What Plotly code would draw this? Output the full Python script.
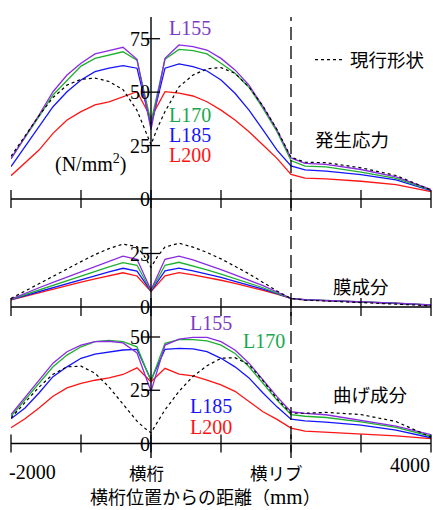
import plotly.graph_objects as go

# ---- distance from the cross girder (mm) ----
X = [-2000, -1800, -1600, -1400, -1200, -1000, -800, -600, -400, -200, 0,
     200, 400, 600, 800, 1000, 1200, 1400, 1600, 1800, 2000,
     2200, 2500, 3000, 3500, 4000]
X_CUR = [-2000, -1800, -1600, -1400, -1200, -1000, -800, -600, -400, -200, -100, 0,
         100, 200, 400, 600, 800, 1000, 1200, 1400, 1600, 1800, 2000,
         2200, 2500, 3000, 3500, 4000]

# ---- 発生応力 (N/mm2) ----
TOP_L155 = [18.8, 29.0, 39.3, 50.2, 58.0, 63.5, 67.9, 69.4, 71.0, 65.4, 32.5,
            65.8, 72.1, 71.3, 69.7, 65.8, 60.4, 53.3, 43.2, 32.3, 19.2,
            16.7, 16.2, 13.8, 10.3, 4.5]
TOP_L170 = [19.0, 28.5, 38.5, 48.7, 55.7, 62.2, 65.8, 67.4, 68.9, 65.0, 36.0,
            65.4, 70.0, 69.4, 67.9, 63.5, 58.8, 52.3, 42.4, 31.5, 18.0,
            15.4, 15.0, 12.6, 9.6, 4.2]
TOP_L185 = [15.1, 24.5, 33.8, 43.2, 50.2, 55.7, 59.6, 61.2, 62.4, 61.2, 34.5,
            61.2, 63.2, 61.9, 59.9, 55.7, 49.5, 41.6, 32.3, 22.9, 15.5,
            13.6, 13.0, 11.4, 9.0, 3.9]
TOP_L200 = [10.9, 16.7, 22.9, 30.7, 37.0, 40.9, 44.0, 45.5, 47.9, 50.2, 38.0,
            50.2, 49.5, 48.2, 45.5, 41.6, 37.0, 31.5, 25.3, 19.0, 11.5,
            9.8, 9.4, 8.3, 6.7, 3.4]
TOP_CUR = [20.0, 29.5, 39.0, 47.5, 53.3, 56.0, 56.6, 55.0, 51.2, 41.5, 33.5, 25.5,
           33.8, 40.9, 52.5, 58.0, 60.9, 61.5, 58.8, 52.4, 43.5, 32.5, 19.5,
           17.2, 17.0, 14.6, 11.0, 4.2]

# ---- 膜成分 ----
MID_L155 = [3.7, 6.5, 9.0, 11.5, 14.0, 16.5, 19.0, 21.5, 23.8, 22.3, 7.9,
            22.3, 23.8, 22.0, 19.8, 17.5, 15.0, 12.5, 10.0, 7.0, 4.0,
            3.4, 3.1, 2.5, 1.8, 1.0]
MID_L170 = [3.6, 5.8, 8.0, 10.2, 12.4, 14.5, 16.7, 18.8, 20.7, 19.5, 7.5,
            19.5, 20.9, 19.3, 17.4, 15.4, 13.3, 11.2, 9.0, 6.5, 4.0,
            3.4, 3.1, 2.5, 1.8, 1.0]
MID_L185 = [3.5, 5.4, 7.3, 9.2, 11.0, 12.8, 14.6, 16.4, 18.1, 16.8, 7.4,
            16.9, 18.2, 16.9, 15.4, 13.8, 12.0, 10.2, 8.3, 6.2, 4.0,
            3.3, 3.0, 2.4, 1.7, 0.9]
MID_L200 = [3.3, 5.0, 6.7, 8.4, 10.0, 11.6, 13.1, 14.6, 16.0, 14.5, 7.2,
            14.6, 16.1, 15.0, 13.8, 12.5, 11.0, 9.5, 7.8, 6.0, 4.0,
            3.3, 3.0, 2.4, 1.7, 0.9]
MID_CUR = [4.0, 7.5, 11.0, 14.5, 18.0, 21.2, 24.5, 27.3, 29.4, 28.2, 24.0, 18.5,
           24.0, 28.0, 29.8, 28.0, 25.5, 22.5, 19.0, 15.5, 11.5, 7.5, 4.0,
           3.2, 2.8, 2.1, 1.3, 0.6]

# ---- 曲げ成分 ----
BOT_L155 = [13.6, 21.5, 29.3, 37.7, 43.1, 46.2, 47.8, 48.0, 47.2, 42.5, 24.5,
            46.2, 49.0, 49.8, 49.8, 47.8, 43.9, 37.7, 29.8, 22.0, 14.9,
            14.1, 13.5, 11.0, 8.2, 4.2]
BOT_L170 = [12.8, 20.5, 28.2, 36.0, 41.5, 45.4, 47.8, 48.4, 47.8, 45.4, 29.3,
            47.0, 48.8, 48.8, 48.2, 46.2, 42.3, 36.0, 28.3, 20.4, 13.6,
            12.8, 12.2, 10.2, 7.6, 3.4]
BOT_L185 = [11.6, 16.7, 23.7, 31.4, 36.0, 40.0, 42.0, 43.1, 43.9, 44.2, 29.8,
            44.2, 44.7, 44.4, 43.1, 40.0, 36.0, 30.8, 23.7, 17.2, 11.4,
            10.6, 10.0, 8.6, 6.3, 2.7]
BOT_L200 = [7.4, 11.6, 16.7, 22.2, 26.1, 28.2, 29.7, 30.8, 32.4, 35.5, 29.0,
            35.3, 32.6, 31.7, 29.8, 27.5, 24.5, 19.6, 14.9, 11.3, 7.2,
            5.8, 5.3, 4.6, 3.6, 2.3]
BOT_CUR = [12.0, 19.0, 26.5, 32.5, 36.0, 36.3, 33.0, 26.5, 18.5, 10.5, 7.5, 5.0,
           10.5, 15.8, 24.5, 31.5, 36.5, 40.0, 40.3, 37.0, 29.5, 21.0, 14.2,
           14.2, 14.6, 13.6, 10.3, 3.0]

X_TICKS = [-2000, -1000, 0, 1000, 2000, 3000, 4000]
TOP_YTICKS = [25, 50, 75]
MID_YTICKS = [25]
BOT_YTICKS = [25, 50]
RIB_X = 2000

C155, C170, C185, C200 = "#8a2be2", "#1fb02f", "#1414ff", "#ff1414"
T155, T170, T185, T200 = "#7b3cc4", "#17a84c", "#1414ff", "#ff1414"
SERIF = "Liberation Serif, Times New Roman, serif"
JP = "Noto Sans CJK JP, sans-serif"

W, H = 433, 510
ML, MR = 11, 2


def fx(p):
    return (p - ML) / (W - ML - MR)


def fy(p):
    return 1 - p / H


# (axis id, pixel row of zero, pixels per unit, range)
PANELS = [("y", 199.0, 2.137, (-6, 85)),
          ("y2", 307.0, 2.14, (-4, 35)),
          ("y3", 443.5, 2.13, (-7, 58))]

DATA = [
    (TOP_CUR, TOP_L155, TOP_L170, TOP_L185, TOP_L200, TOP_YTICKS),
    (MID_CUR, MID_L155, MID_L170, MID_L185, MID_L200, MID_YTICKS),
    (BOT_CUR, BOT_L155, BOT_L170, BOT_L185, BOT_L200, BOT_YTICKS),
]

fig = go.Figure()
shapes = []
annotations = []

for i, ((yid, z, s, (lo, hi)), (cur, a, b, c, d, yt)) in enumerate(zip(PANELS, DATA)):
    xid = "x" if i == 0 else f"x{i + 1}"
    for ys, col in ((d, C200), (c, C185), (b, C170), (a, C155)):
        fig.add_trace(go.Scatter(x=X, y=ys, mode="lines", xaxis=xid, yaxis=yid,
                                 line=dict(color=col, width=1.3), showlegend=False,
                                 hoverinfo="skip"))
    fig.add_trace(go.Scatter(x=X_CUR, y=cur, mode="lines", xaxis=xid, yaxis=yid,
                             line=dict(color="black", width=1.2, dash="3px,3px"),
                             name="現行形状", showlegend=(i == 0), hoverinfo="skip"))
    # baseline with crossing tick marks
    shapes.append(dict(type="line", xref=xid, yref=yid, x0=X_TICKS[0], x1=X_TICKS[-1],
                       y0=0, y1=0, line=dict(color="black", width=1.4)))
    fig.add_trace(go.Scatter(x=X_TICKS, y=[0] * len(X_TICKS), mode="markers",
                             xaxis=xid, yaxis=yid, cliponaxis=False, showlegend=False,
                             hoverinfo="skip",
                             marker=dict(symbol="line-ns", size=13,
                                         line=dict(color="black", width=1.3))))
    fig.add_trace(go.Scatter(x=[0] * len(yt), y=yt, mode="markers",
                             xaxis=xid, yaxis=yid, cliponaxis=False, showlegend=False,
                             hoverinfo="skip",
                             marker=dict(symbol="line-ew", size=13,
                                         line=dict(color="black", width=1.3))))
    for v in [0] + yt:
        annotations.append(dict(xref=xid, yref=yid, x=0, y=v, text=str(v),
                                showarrow=False, xanchor="right", yanchor="middle",
                                xshift=1, font=dict(family=SERIF, size=20, color="black")))
    dom = [fy(z - lo * s), fy(z - hi * s)]
    fig.update_layout(**{
        ("yaxis" if i == 0 else f"yaxis{i + 1}"): dict(
            domain=dom, range=[lo, hi], visible=False, fixedrange=True),
        ("xaxis" if i == 0 else f"xaxis{i + 1}"): dict(
            range=[-2000, 4000], visible=False, anchor=yid, fixedrange=True),
    })

# vertical axis through the cross girder and the rib position
shapes.append(dict(type="line", xref="x", yref="paper", x0=0, x1=0,
                   y0=fy(458), y1=fy(17), line=dict(color="black", width=1.4)))
shapes.append(dict(type="line", xref="x", yref="paper", x0=RIB_X, x1=RIB_X,
                   y0=fy(458), y1=fy(17), line=dict(color="black", width=1.3,
                                                    dash="13px,6px")))


def label(text, xp, yp, color="black", family=SERIF, size=20, xanchor="center"):
    annotations.append(dict(xref="paper", yref="paper", x=fx(xp), y=fy(yp), text=text,
                            showarrow=False, xanchor=xanchor, yanchor="middle",
                            font=dict(family=family, size=size, color=color)))


# series names
label("L155", 190, 28, T155)
label("L170", 190, 115, T170)
label("L185", 190, 135, T185)
label("L200", 190, 155, T200)
label("L155", 211, 323, T155)
label("L170", 264, 341, T170)
label("L185", 211, 406, T185)
label("L200", 211, 427, T200)
label("(N/mm<sup>2</sup>)", 90, 164, size=20)

# panel titles
label("発生応力", 352, 139, family=JP, size=18.5)
label("膜成分", 361, 286, family=JP, size=18.5)
label("曲げ成分", 370, 394, family=JP, size=18.5)

# horizontal axis labels
label("-2000", 7, 472, xanchor="left", size=20)
label("横桁", 146, 472, family=JP, size=17.5)
label("横リブ", 276, 472, family=JP, size=17.5)
label("4000", 432, 465, xanchor="right", size=20)
label("横桁位置からの距離（<span style=\"font-family:Liberation Serif;"
      "font-size:21px\">mm</span>）", 205, 496, family=JP, size=18)

fig.update_layout(
    width=W, height=H,
    margin=dict(l=ML, r=MR, t=0, b=0),
    paper_bgcolor="white", plot_bgcolor="rgba(0,0,0,0)",
    shapes=shapes, annotations=annotations,
    showlegend=True,
    legend=dict(x=fx(310), y=fy(60), xanchor="left", yanchor="middle",
                bgcolor="rgba(0,0,0,0)", itemwidth=30,
                font=dict(family=JP, size=18.5, color="black")),
)

fig.write_html("out.html")
